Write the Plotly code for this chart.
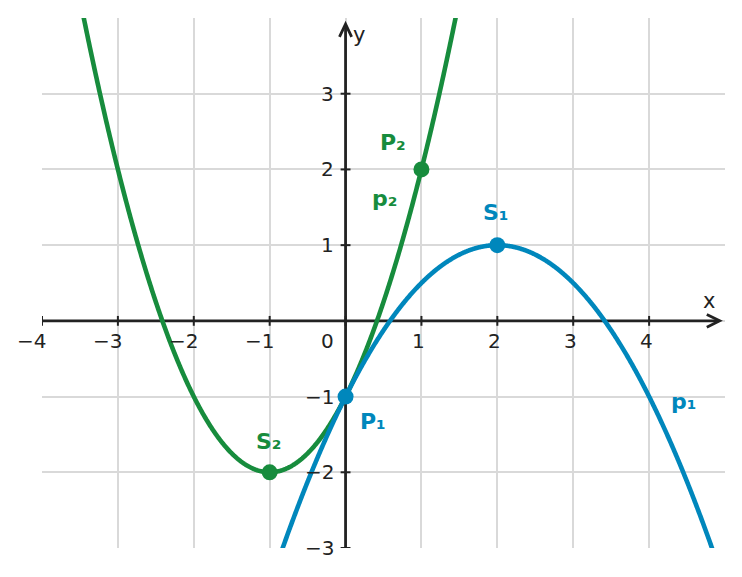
import numpy as np
import plotly.graph_objects as go

# Parabola data: vertex form y = a*(x - h)^2 + k
p1_coef = {"a": -0.5, "h": 2.0, "k": 1.0}
p2_coef = {"a": 1.0, "h": -1.0, "k": -2.0}

# Marked points
p1_pts_x = [0, 2]
p1_pts_y = [-1, 1]
p2_pts_x = [-1, 1]
p2_pts_y = [-2, 2]

x_ticks = [-4, -3, -2, -1, 0, 1, 2, 3, 4]
y_ticks = [-3, -2, -1, 1, 2, 3]

labels = [
    ("P₂", 0.63, 2.35, "p2"),
    ("p₂", 0.51, 1.62, "p2"),
    ("S₁", 1.98, 1.43, "p1"),
    ("S₂", -1.02, -1.59, "p2"),
    ("P₁", 0.36, -1.33, "p1"),
    ("p₁", 4.45, -1.06, "p1"),
]

GREEN = "#178c3d"
BLUE = "#0087bc"
AX = "#222222"
GRID = "#d9d9d9"
colors = {"p1": BLUE, "p2": GREEN}

X_MIN, X_MAX, Y_MIN, Y_MAX = -4, 5, -3, 4

xs = np.linspace(X_MIN, X_MAX, 1500)


def parab(c, x):
    return c["a"] * (x - c["h"]) ** 2 + c["k"]


fig = go.Figure()
fig.add_trace(go.Scatter(x=xs, y=parab(p2_coef, xs), mode="lines",
                         line=dict(color=GREEN, width=4.6, simplify=False), hoverinfo="skip"))
fig.add_trace(go.Scatter(x=xs, y=parab(p1_coef, xs), mode="lines",
                         line=dict(color=BLUE, width=4.6, simplify=False), hoverinfo="skip"))
fig.add_trace(go.Scatter(x=p2_pts_x, y=p2_pts_y, mode="markers",
                         marker=dict(color=GREEN, size=16), cliponaxis=False))
fig.add_trace(go.Scatter(x=p1_pts_x, y=p1_pts_y, mode="markers",
                         marker=dict(color=BLUE, size=16), cliponaxis=False))

LAYER = "between"
shapes = []
# axes lines
shapes.append(dict(type="line", x0=X_MIN, x1=4.92, y0=0, y1=0,
                   line=dict(color=AX, width=2.8), layer=LAYER))
shapes.append(dict(type="line", x0=0, x1=0, y0=Y_MIN, y1=3.9,
                   line=dict(color=AX, width=2.8), layer=LAYER))
# arrow chevrons
shapes.append(dict(type="path", path="M 4.76 0.085 L 4.93 0 L 4.76 -0.085",
                   line=dict(color=AX, width=2.8), layer=LAYER))
shapes.append(dict(type="path", path="M -0.08 3.75 L 0 3.92 L 0.08 3.75",
                   line=dict(color=AX, width=2.8), layer=LAYER))
# tick marks
tl = 0.065
for t in x_ticks:
    shapes.append(dict(type="line", x0=t, x1=t, y0=-tl, y1=tl,
                       line=dict(color=AX, width=2), layer=LAYER))
for t in y_ticks:
    shapes.append(dict(type="line", x0=-tl, x1=tl, y0=t, y1=t,
                       line=dict(color=AX, width=2), layer=LAYER))

annotations = []
tick_font = dict(family="DejaVu Sans", size=20, color=AX)
for t in x_ticks:
    if t == 0:
        annotations.append(dict(x=0, y=0, text="0", showarrow=False, xanchor="right",
                                yanchor="middle", xshift=-10, yshift=-20, font=tick_font))
    else:
        annotations.append(dict(x=t, y=0, text=str(t).replace("-", "−"), showarrow=False,
                                xanchor="right", yanchor="middle", xshift=6, yshift=-20,
                                font=tick_font))
for t in y_ticks:
    annotations.append(dict(x=0, y=t, text=str(t).replace("-", "−"), showarrow=False,
                            xanchor="right", yanchor="middle", xshift=-10, font=tick_font))

annotations.append(dict(x=4.79, y=0.26, text="x", showarrow=False,
                        font=dict(family="DejaVu Sans", size=21, color=AX)))
annotations.append(dict(x=0.18, y=3.77, text="y", showarrow=False,
                        font=dict(family="DejaVu Sans", size=21, color=AX)))

for txt, lx, ly, key in labels:
    annotations.append(dict(x=lx, y=ly, text="<b>" + txt + "</b>", showarrow=False,
                            font=dict(family="DejaVu Sans", size=22, color=colors[key])))

fig.update_layout(
    width=742, height=577,
    margin=dict(l=34, r=25, t=10, b=37),
    paper_bgcolor="white", plot_bgcolor="white",
    showlegend=False,
    shapes=shapes, annotations=annotations,
    xaxis=dict(range=[X_MIN, X_MAX], tickvals=x_ticks, showticklabels=False,
               showgrid=True, gridcolor=GRID, gridwidth=1.5, zeroline=False,
               showline=False, fixedrange=True),
    yaxis=dict(range=[Y_MIN, Y_MAX], tickvals=[-3, -2, -1, 0, 1, 2, 3], showticklabels=False,
               showgrid=True, gridcolor=GRID, gridwidth=1.5, zeroline=False,
               showline=False, fixedrange=True),
)

fig.write_html("out.html")
